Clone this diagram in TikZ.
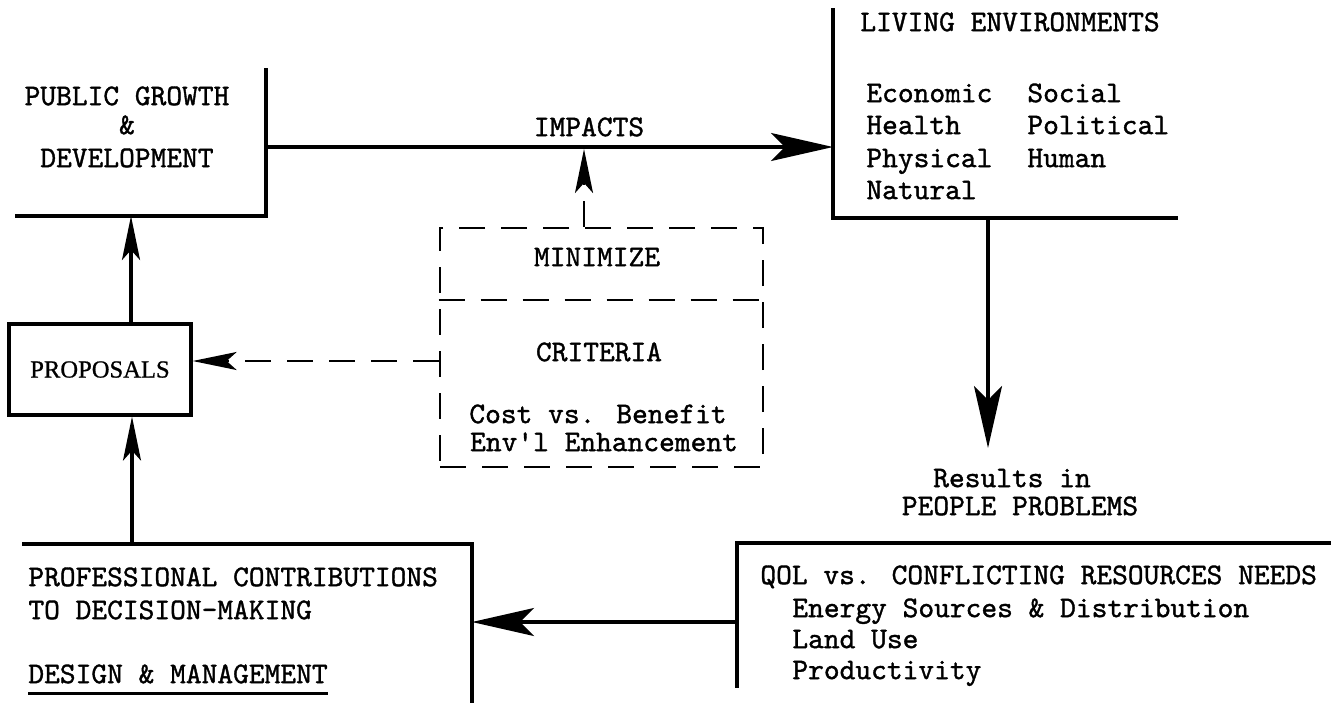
\documentclass[tikz,border=0pt]{standalone}
\usepackage{fontspec}
\newfontfamily\twfont{lmmono10-regular}[Extension=.otf, FakeBold=1.2]
\newfontfamily\propfont{Liberation Serif}[FakeBold=0.8]
\usetikzlibrary{arrows.meta}
\begin{document}
\begin{tikzpicture}[x=0.5pt,y=-0.5pt,
  line/.style={line width=1.6pt},
  dline/.style={line width=1.3pt, dash pattern=on 13pt off 8pt},
  bigtip/.style={-{Stealth[length=31pt,width=14pt,inset=7pt]}},
  smalltip/.style={-{Stealth[length=22pt,width=9pt,inset=5pt]}},
  tw/.style={font=\twfont\fontsize{15}{15.5}\selectfont, inner sep=0pt, text height=9.1pt, text depth=0pt},
  rm/.style={font=\propfont\fontsize{12.3}{13}\selectfont},
]
\useasboundingbox (0,0) rectangle (1331,703);

% Public growth & development (open box)
\coordinate (pgTop) at (266,68);
\coordinate (pgCorner) at (266,216);
\coordinate (pgLeft) at (15,216);
\draw[line] (pgTop) -- (pgCorner) -- (pgLeft);
\node[tw] (pg1) at (127,96) {PUBLIC GROWTH};
\node[tw] (pg2) at (127,125) {\&};
\node[tw] (pg3) at (127,158) {DEVELOPMENT};

% Living environments (open box)
\coordinate (leTop) at (833,8);
\coordinate (leCorner) at (833,218);
\coordinate (leRight) at (1178,218);
\draw[line] (leTop) -- (leCorner) -- (leRight);
\node[tw, anchor=west] (le) at (860,22) {LIVING ENVIRONMENTS};
\node[tw, anchor=west] (le1) at (866,93) {Economic};
\node[tw, anchor=west] (le2) at (1027,93) {Social};
\node[tw, anchor=west] (le3) at (866,125) {Health};
\node[tw, anchor=west] (le4) at (1027,125) {Political};
\node[tw, anchor=west] (le5) at (866,158) {Physical};
\node[tw, anchor=west] (le6) at (1027,158) {Human};
\node[tw, anchor=west] (le7) at (866,190) {Natural};

% Impacts
\coordinate (pgOut) at (266,147);
\coordinate (leIn) at (833,147);
\draw[line, bigtip] (pgOut) -- (leIn);
\node[tw] (impacts) at (589,127) {IMPACTS};

% Results in people problems
\coordinate (leOut) at (988,218);
\coordinate (resTip) at (988,448);
\draw[line, bigtip] (leOut) -- (resTip);
\node[tw] (res1) at (1012,478) {Results in};
\node[tw] (res2) at (1020,506) {PEOPLE PROBLEMS};

% QOL vs. conflicting resources needs (open box)
\coordinate (qRight) at (1331,543);
\coordinate (qCorner) at (737,543);
\coordinate (qBottom) at (737,688);
\draw[line] (qRight) -- (qCorner) -- (qBottom);
\node[tw, anchor=west] (q1) at (760,575) {QOL vs. CONFLICTING RESOURCES NEEDS};
\node[tw, anchor=west] (q2) at (792,608) {Energy Sources \& Distribution};
\node[tw, anchor=west] (q3) at (792,639) {Land Use};
\node[tw, anchor=west] (q4) at (792,670) {Productivity};

% Professional contributions (open box)
\coordinate (pcLeft) at (22,544);
\coordinate (pcCorner) at (472,544);
\coordinate (pcBottom) at (472,703);
\draw[line] (pcLeft) -- (pcCorner) -- (pcBottom);
\node[tw, anchor=west] (pc1) at (28,577) {PROFESSIONAL CONTRIBUTIONS};
\node[tw, anchor=west] (pc2) at (28,610) {TO DECISION-MAKING};
\node[tw, anchor=west] (dm) at (28,674) {DESIGN \& MANAGEMENT};
\draw[line width=1.3pt] ([yshift=-5pt]dm.south west) -- ([yshift=-5pt]dm.south east);

\coordinate (qOut) at (737,622);
\coordinate (pcIn) at (472,622);
\draw[line, bigtip] (qOut) -- (pcIn);

% Proposals
\node[draw, line, rm, minimum width=91pt, minimum height=45.5pt, inner sep=0pt] (prop) at (100,369.5) {PROPOSALS};
\coordinate (pgIn) at (131,216);
\coordinate (pcOut) at (132,544);
\draw[line, smalltip] (prop.north -| pgIn) -- (pgIn);
\draw[line, smalltip] (pcOut) -- (prop.south -| pcOut);

% Minimize / criteria (dashed box)
\node[draw, dline, minimum width=161.5pt, minimum height=119.5pt, inner sep=0pt] (crit) at (601.5,347.5) {};
\coordinate (divY) at (0,300);
\draw[dline] (crit.west |- divY) -- (crit.east |- divY);
\node[tw] (min) at (597,257) {MINIMIZE};
\node[tw] (cri) at (599,352) {CRITERIA};
\node[tw] (cb) at (598,414) {Cost vs. Benefit};
\node[tw] (ee) at (604,442) {Env\textquotesingle l Enhancement};

\coordinate (minTip) at (584,149);
\draw[dline, smalltip] (crit.north -| minTip) -- (minTip);
\coordinate (critY) at (0,361);
\draw[dline, smalltip] (crit.west |- critY) -- (prop.east |- critY);
\end{tikzpicture}
\end{document}
